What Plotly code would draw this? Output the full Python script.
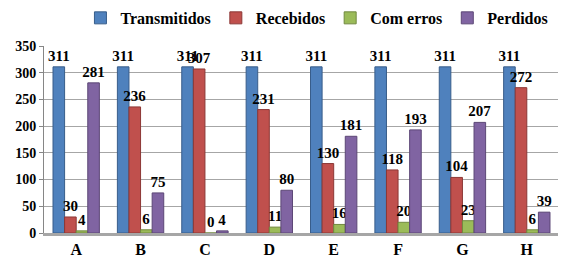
import plotly.graph_objects as go

categories = ["A", "B", "C", "D", "E", "F", "G", "H"]
transmitidos = [311, 311, 311, 311, 311, 311, 311, 311]
recebidos = [30, 236, 307, 231, 130, 118, 104, 272]
com_erros = [4, 6, 0, 11, 16, 20, 23, 6]
perdidos = [281, 75, 4, 80, 181, 193, 207, 39]

series = [
    ("Transmitidos", transmitidos, "#4F81BD", "#385D8A"),
    ("Recebidos", recebidos, "#C0504D", "#8C3836"),
    ("Com erros", com_erros, "#9BBB59", "#71893F"),
    ("Perdidos", perdidos, "#8064A2", "#5C4776"),
]

ff = "Liberation Serif, Times New Roman, serif"

fig = go.Figure()
for name, vals, col, edge in series:
    fig.add_trace(go.Bar(
        name=name, x=categories, y=vals,
        marker=dict(color=col, line=dict(color=edge, width=1)),
        text=[str(v) for v in vals], textposition="outside",
        textfont=dict(family=ff, size=15, color="black", weight="bold"),
        constraintext="none", cliponaxis=False,
    ))

fig.update_layout(
    width=566, height=266,
    margin=dict(l=36, r=15, t=38, b=41, autoexpand=False),
    paper_bgcolor="white", plot_bgcolor="white",
    barmode="group", bargap=0.28, bargroupgap=0,
    font=dict(family=ff, color="black", weight="bold"),
    legend=dict(orientation="h", x=0.53, xanchor="center", y=1.15, yanchor="middle",
                font=dict(family=ff, size=16, weight="bold"),
                traceorder="normal"),
    showlegend=True,
)
fig.update_yaxes(range=[0, 350], dtick=50, showgrid=True, gridcolor="#A6A6A6",
                 showline=True, linecolor="#868686", ticks="outside", ticklen=4,
                 tickcolor="#868686",
                 tickfont=dict(family=ff, size=14, color="black", weight="bold"),
                 zeroline=False)
fig.update_xaxes(showline=True, linecolor="#A6A6A6", linewidth=3, ticks="",
                 tickfont=dict(family=ff, size=16, color="black", weight="bold"))
fig.write_html("out.html")
